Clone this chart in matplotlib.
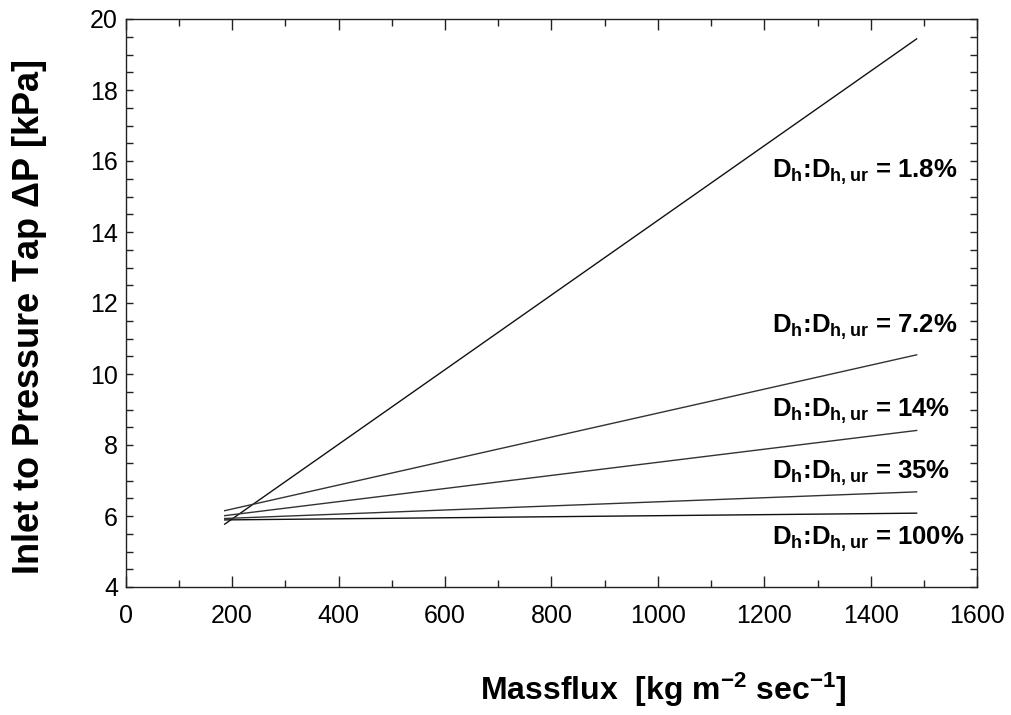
import matplotlib
matplotlib.use("Agg")
import matplotlib.pyplot as plt
from matplotlib.ticker import MultipleLocator

plt.rcParams["font.family"] = ["Liberation Sans", "DejaVu Sans"]
plt.rcParams["mathtext.fontset"] = "custom"
plt.rcParams["mathtext.bf"] = "Liberation Sans:bold"
plt.rcParams["mathtext.rm"] = "Liberation Sans:bold"
plt.rcParams["mathtext.it"] = "Liberation Sans:bold"
plt.rcParams["mathtext.default"] = "bf"

# Mass flux range of each pressure-drop curve [kg m^-2 s^-1]
massflux = [186, 1486]

# Inlet-to-tap pressure drop [kPa] at the ends of the mass-flux range
ratios = ["1.8%", "7.2%", "14%", "35%", "100%"]
dp_1p8 = [5.77, 19.44]
dp_7p2 = [6.15, 10.54]
dp_14 = [6.01, 8.41]
dp_35 = [5.93, 6.68]
dp_100 = [5.89, 6.08]
series = [dp_1p8, dp_7p2, dp_14, dp_35, dp_100]
line_colors = ["#111111", "#333333", "#333333", "#333333", "#111111"]

# Label anchor (massflux, kPa) for each curve
label_x = [1214, 1214, 1214, 1214, 1214]
label_y = [15.53, 11.15, 8.80, 7.06, 5.18]

fig = plt.figure(figsize=(10.11, 7.15), dpi=100)
ax = fig.add_axes([125.7 / 1011, 1 - 587 / 715, (977.3 - 125.7) / 1011, (587 - 19) / 715])

for vals, col in zip(series, line_colors):
    ax.plot(massflux, vals, color=col, lw=1.0)

for r, lx, ly in zip(ratios, label_x, label_y):
    ax.text(lx, ly, r"$D_h$:$D_{h,ur}$ = " + r,
            fontsize=18.5, fontweight="bold", ha="left", va="baseline")

ax.set_xlim(0, 1600)
ax.set_ylim(4, 20)
ax.xaxis.set_major_locator(MultipleLocator(200))
ax.xaxis.set_minor_locator(MultipleLocator(100))
ax.yaxis.set_major_locator(MultipleLocator(2))
ax.yaxis.set_minor_locator(MultipleLocator(0.5))

ax.tick_params(axis="both", which="both", direction="in", top=True, right=True,
               color="#222222", width=1.0)
ax.tick_params(axis="x", which="major", length=8, pad=12, labelsize=18)
ax.tick_params(axis="x", which="minor", length=5)
ax.tick_params(axis="y", which="major", length=5, pad=5.5, labelsize=18)
ax.tick_params(axis="y", which="minor", length=5)
for s in ax.spines.values():
    s.set_color("#222222")
    s.set_linewidth(1.0)

ax.set_xlabel(r"Massflux  [kg m$^{-2}$ sec$^{-1}$]", fontsize=23, fontweight="bold")
ax.xaxis.set_label_coords(0.631, -0.148)
ax.set_ylabel(r"Inlet to Pressure Tap $\Delta$P [kPa]", fontsize=26, fontweight="bold")
ax.yaxis.set_label_coords(-0.090, 0.475)

fig.savefig("out.png", dpi=100)
